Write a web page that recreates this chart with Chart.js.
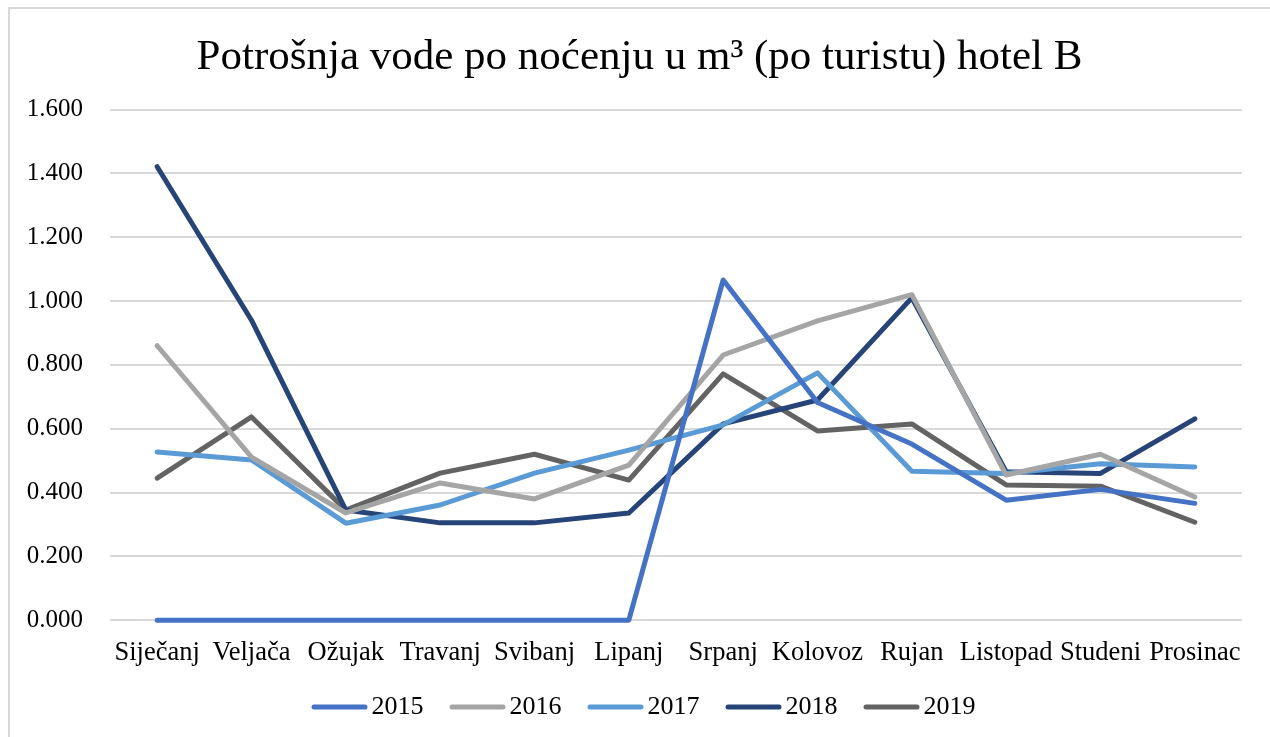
<!DOCTYPE html>
<html lang="hr">
<head>
    <meta charset="UTF-8">
    <script src="https://cdn.jsdelivr.net/npm/chart.js"></script>
    <title>Potrošnja vode hotel B</title>
    <style>
        html, body {
            margin: 0;
            padding: 0;
            background: #fff;
            overflow: hidden;
        }
        #frame {
            position: absolute;
            left: 8px;
            top: 7px;
            width: 1300px;
            height: 800px;
            border-top: 2px solid #d9d9d9;
            border-left: 2px solid #d9d9d9;
        }
        #wrap {
            position: absolute;
            left: 0;
            top: 0;
            width: 1270px;
            height: 737px;
        }
    </style>
</head>
<body>
    <div id="frame"></div>
    <div id="wrap">
        <canvas id="myChart"></canvas>
    </div>

    <script>
        const months = ['Siječanj', 'Veljača', 'Ožujak', 'Travanj', 'Svibanj', 'Lipanj',
            'Srpanj', 'Kolovoz', 'Rujan', 'Listopad', 'Studeni', 'Prosinac']

        const y2015 = [0, 0, 0, 0, 0, 0, 1.066, 0.682, 0.552, 0.376, 0.410, 0.366]
        const y2016 = [0.860, 0.511, 0.336, 0.430, 0.380, 0.486, 0.831, 0.938, 1.020, 0.455, 0.520, 0.386]
        const y2017 = [0.527, 0.502, 0.304, 0.361, 0.461, 0.533, 0.612, 0.775, 0.467, 0.460, 0.490, 0.480]
        const y2018 = [1.421, 0.940, 0.345, 0.305, 0.305, 0.336, 0.615, 0.690, 1.010, 0.465, 0.460, 0.631]
        const y2019 = [0.445, 0.637, 0.345, 0.461, 0.520, 0.439, 0.772, 0.593, 0.615, 0.424, 0.420, 0.307]

        const yearLabels = ['2015', '2016', '2017', '2018', '2019']
        const colors = ['#4472c4', '#a5a5a5', '#5b9bd5', '#264478', '#636363']
        const series = [y2015, y2016, y2017, y2018, y2019]

        const serif = '"Liberation Serif", "Times New Roman", serif'
        Chart.defaults.font.family = serif
        Chart.defaults.color = '#000'

        // legend swatch: the line sits right of the box center, close to the text
        function swatch(color) {
            let c = document.createElement('canvas')
            c.width = 84
            c.height = 10
            let g = c.getContext('2d')
            g.strokeStyle = color
            g.lineWidth = 5
            g.lineCap = 'round'
            g.beginPath()
            g.moveTo(30, 5)
            g.lineTo(81, 5)
            g.stroke()
            return c
        }

        // title and legend are centred on the frame, not on the padded layout
        const shiftCenter = {
            id: 'shiftCenter',
            afterLayout(chart) {
                if (chart.titleBlock) {
                    chart.titleBlock.left += 14
                    chart.titleBlock.right += 14
                }
                if (chart.legend) {
                    chart.legend.left += 9
                    chart.legend.right += 9
                }
            }
        }

        var ctx = document.getElementById('myChart').getContext('2d')
        var chart = new Chart(ctx, {
            type: 'line',
            data: {
                labels: months,
                datasets: series.map((d, i) => ({
                    label: yearLabels[i],
                    data: d,
                    borderColor: colors[i],
                    backgroundColor: colors[i],
                    borderWidth: 5,
                    borderCapStyle: 'round',
                    borderJoinStyle: 'round',
                    pointRadius: 0,
                    pointHoverRadius: 0,
                    pointStyle: swatch(colors[i]),
                    clip: false,
                    tension: 0
                }))
            },
            plugins: [shiftCenter],
            options: {
                responsive: true,
                maintainAspectRatio: false,
                animation: false,
                layout: {
                    padding: { left: 9, right: 28, top: 22, bottom: 7 }
                },
                plugins: {
                    title: {
                        display: true,
                        text: 'Potrošnja vode po noćenju u m³ (po turistu) hotel B',
                        font: { size: 43, weight: 'normal', family: serif },
                        color: '#000',
                        padding: { top: 10, bottom: 26 }
                    },
                    legend: {
                        position: 'bottom',
                        labels: {
                            usePointStyle: true,
                            pointStyleWidth: 65,
                            font: { size: 26, family: serif },
                            padding: 8
                        }
                    },
                    tooltip: { enabled: false }
                },
                scales: {
                    x: {
                        offset: true,
                        grid: { display: false, drawTicks: false },
                        border: { display: false },
                        ticks: {
                            font: { size: 26.5, family: serif },
                            padding: 17,
                            maxRotation: 0,
                            autoSkip: false
                        }
                    },
                    y: {
                        min: 0,
                        max: 1.6,
                        afterFit: (scale) => { scale.width = 101 },
                        grid: { color: '#d9d9d9', lineWidth: 2, drawTicks: false },
                        border: { display: false },
                        ticks: {
                            stepSize: 0.2,
                            font: { size: 25, family: serif },
                            padding: 27,
                            callback: (v) => Number(v).toFixed(3)
                        }
                    }
                }
            }
        })
    </script>
</body>
</html>
